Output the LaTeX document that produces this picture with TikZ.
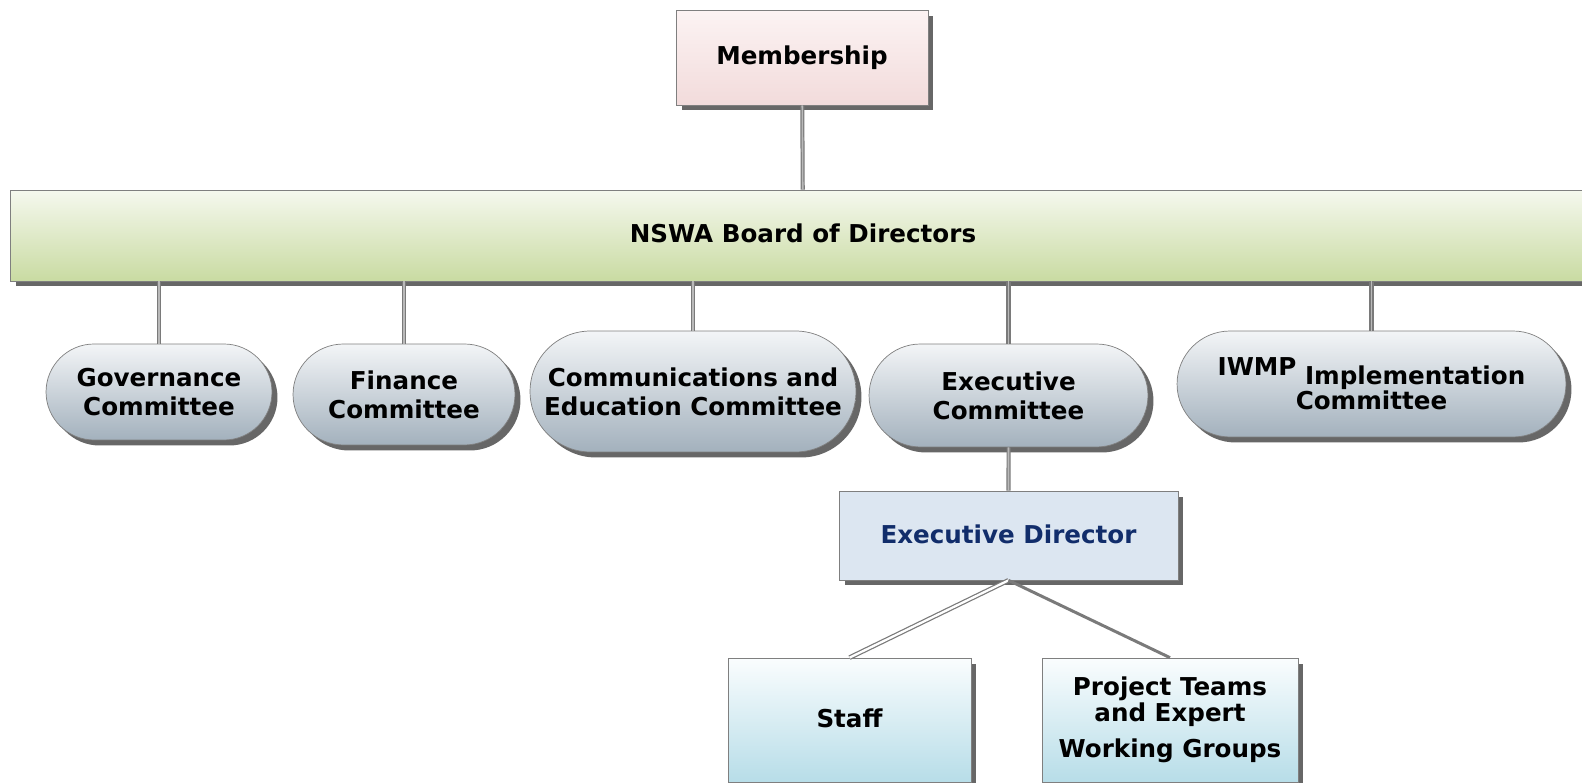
\documentclass[tikz,border=0pt]{standalone}
\usepackage{fontspec}
\setmainfont{DejaVu Sans}
\usetikzlibrary{shapes.misc, shadows}
\definecolor{edgegray}{HTML}{7F7F7F}
\definecolor{linkgray}{HTML}{7A7A7A}
\definecolor{dirblue}{HTML}{112D6B}
\tikzset{%
	base/.style={draw=edgegray, inner sep=0mm, align=center,%
		font=\bfseries\fontsize{14}{16.5}\selectfont,%
		drop shadow={shadow xshift=0.11cm, shadow yshift=-0.11cm, fill=black!85, opacity=0.7}},
	member/.style={base, rectangle, top color={rgb,255:red,252;green,243;blue,243},%
		bottom color={rgb,255:red,242;green,219;blue,219}},
	board/.style={base, rectangle, top color={rgb,255:red,245;green,248;blue,238},%
		bottom color={rgb,255:red,201;green,219;blue,162}},
	cmte/.style={base, rounded rectangle, top color={rgb,255:red,243;green,245;blue,247},%
		bottom color={rgb,255:red,163;green,177;blue,189}},
	director/.style={base, rectangle, fill={rgb,255:red,220;green,230;blue,241}, text=dirblue},
	team/.style={base, rectangle, top color={rgb,255:red,250;green,253;blue,254},%
		bottom color={rgb,255:red,183;green,221;blue,232}},
	link/.style={draw=linkgray, line width=0.7pt, double=gray!55, double distance=0.9pt},
	link2/.style={draw=linkgray, line width=0.7pt, double=white, double distance=1.3pt},
	link3/.style={draw=linkgray, line width=1.7pt}
}
\begin{document}
\begin{tikzpicture}[x=0.02cm, y=-0.02cm]
	\useasboundingbox (0,0) rectangle (1582,783);
	\clip (0,0) rectangle (1582,783);

	\node[member, minimum width=5.04cm, minimum height=1.9cm] (memb) at (802,57.5) {\raisebox{2.5pt}{Membership}};
	\node[board, minimum width=31.72cm, minimum height=1.82cm] (bod) at (803,235.5) {\raisebox{2.5pt}{NSWA Board of Directors}};

	% committees under the board
	\node[cmte, minimum width=4.52cm, minimum height=1.92cm] (gov) at (159,392) {Governance\\Committee};
	\node[cmte, minimum width=4.44cm, minimum height=2.02cm] (fin) at (404,394.5) {Finance\\Committee};
	\node[cmte, minimum width=6.52cm, minimum height=2.42cm] (comm) at (693,391.5) {Communications and\\Education Committee};
	\node[cmte, minimum width=5.58cm, minimum height=2.06cm] (exec) at (1008.5,395.5) {Executive\\Committee};
	\node[cmte, minimum width=7.78cm, minimum height=2.12cm, font=\bfseries\fontsize{14}{14.5}\selectfont] (iwmp) at (1371.5,384)
		{\raisebox{5pt}{IWMP} Implementation\\Committee};

	\node[director, minimum width=6.78cm, minimum height=1.78cm] (dir) at (1008.5,535.5) {\raisebox{2pt}{Executive Director}};
	\node[team, minimum width=4.86cm, minimum height=2.48cm] (staff) at (849.5,720) {\raisebox{2.5pt}{Staff}};
	\node[team, minimum width=5.12cm, minimum height=2.48cm, font=\bfseries\fontsize{14}{14.5}\selectfont] (proj) at (1170,720)
		{Project Teams\\and Expert\\[6pt]Working Groups};

	\draw[link] (memb) to (bod);
	\foreach \c in {gov, fin, comm, exec, iwmp}
		\draw[link] (bod.south -| \c.north) to (\c.north);
	\draw[link] (exec) to (dir);
	\draw[link2] (dir.south) to (staff.north);
	\draw[link3] (dir.south) to (proj.north);
\end{tikzpicture}
\end{document}
